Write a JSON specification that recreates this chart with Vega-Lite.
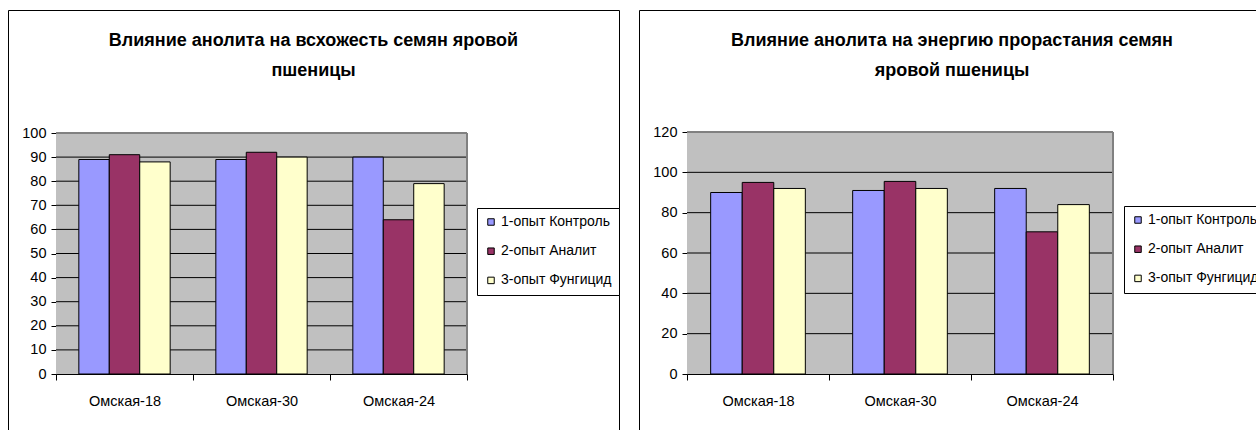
{
  "$schema": "https://vega.github.io/schema/vega-lite/v6.json",
  "padding": {"left": 7, "top": 9, "right": 0, "bottom": 0},
  "background": "white",
  "spacing": 20,
  "bounds": "flush",
  "datasets": {
    "vs": [
      {"sort": "Омская-18", "series": "1-опыт Контроль", "value": 89},
      {"sort": "Омская-18", "series": "2-опыт Аналит", "value": 91},
      {"sort": "Омская-18", "series": "3-опыт Фунгицид", "value": 88},
      {"sort": "Омская-30", "series": "1-опыт Контроль", "value": 89},
      {"sort": "Омская-30", "series": "2-опыт Аналит", "value": 92},
      {"sort": "Омская-30", "series": "3-опыт Фунгицид", "value": 90},
      {"sort": "Омская-24", "series": "1-опыт Контроль", "value": 90},
      {"sort": "Омская-24", "series": "2-опыт Аналит", "value": 64},
      {"sort": "Омская-24", "series": "3-опыт Фунгицид", "value": 79}
    ],
    "en": [
      {"sort": "Омская-18", "series": "1-опыт Контроль", "value": 90},
      {"sort": "Омская-18", "series": "2-опыт Аналит", "value": 95},
      {"sort": "Омская-18", "series": "3-опыт Фунгицид", "value": 92},
      {"sort": "Омская-30", "series": "1-опыт Контроль", "value": 91},
      {"sort": "Омская-30", "series": "2-опыт Аналит", "value": 95.5},
      {"sort": "Омская-30", "series": "3-опыт Фунгицид", "value": 92},
      {"sort": "Омская-24", "series": "1-опыт Контроль", "value": 92},
      {"sort": "Омская-24", "series": "2-опыт Аналит", "value": 70.5},
      {"sort": "Омская-24", "series": "3-опыт Фунгицид", "value": 84}
    ],
    "grid1": [{"g": 10}, {"g": 20}, {"g": 30}, {"g": 40}, {"g": 50}, {"g": 60}, {"g": 70}, {"g": 80}, {"g": 90}],
    "grid2": [{"g": 20}, {"g": 40}, {"g": 60}, {"g": 80}, {"g": 100}]
  },
  "config": {
    "view": {"stroke": "black", "strokeWidth": 1, "fill": "white"},
    "axis": {
      "title": null,
      "grid": false,
      "labelFont": "Liberation Sans",
      "labelFontSize": 14.5,
      "labelColor": "black",
      "domainColor": "black",
      "domainWidth": 1,
      "tickColor": "black",
      "tickWidth": 1
    },
    "legend": {
      "orient": "none",
      "title": null,
      "strokeColor": "black",
      "fillColor": "white",
      "padding": 7,
      "symbolType": "square",
      "symbolSize": 42,
      "symbolStrokeColor": "black",
      "symbolStrokeWidth": 1,
      "symbolOpacity": 1,
      "labelFont": "Liberation Sans",
      "labelFontSize": 14,
      "labelColor": "black",
      "labelOffset": 3,
      "rowPadding": 15.2
    },
    "title": {
      "font": "Liberation Sans",
      "fontSize": 18,
      "fontWeight": "bold",
      "color": "black",
      "lineHeight": 30,
      "anchor": "middle",
      "frame": "group",
      "offset": -70
    }
  },
  "resolve": {
    "scale": {"x": "independent", "y": "independent", "color": "independent", "xOffset": "independent"},
    "legend": {"color": "independent"}
  },
  "hconcat": [
    {
      "width": 611,
      "height": 424,
      "title": {"text": ["Влияние анолита на всхожесть семян яровой", "пшеницы"]},
      "encoding": {
        "x": {
          "field": "sort", "type": "nominal",
          "sort": ["Омская-18", "Омская-30", "Омская-24"],
          "scale": {"range": [48, 459], "paddingInner": 0, "paddingOuter": 0},
          "axis": {"offset": -60, "tickBand": "extent", "tickSize": 6, "labelPadding": 14, "labelAngle": 0}
        }
      },
      "layer": [
        {
          "data": {"name": "vs"},
          "mark": {"type": "rect", "color": "#C0C0C0"},
          "encoding": {
            "y": {
              "datum": 0, "type": "quantitative",
              "scale": {"domain": [0, 100], "range": [364, 123], "nice": false, "zero": true},
              "axis": {"offset": -48, "values": [0, 10, 20, 30, 40, 50, 60, 70, 80, 90, 100], "tickSize": 5, "labelPadding": 5}
            },
            "y2": {"datum": 100}
          }
        },
        {
          "data": {"name": "grid1"},
          "mark": {"type": "rule", "color": "black", "strokeWidth": 1},
          "encoding": {
            "x": {"datum": "Омская-18", "bandPosition": 0},
            "x2": {"datum": "Омская-24", "bandPosition": 1},
            "y": {"field": "g", "type": "quantitative"}
          }
        },
        {
          "data": {"name": "vs"},
          "mark": {"type": "rule", "color": "#808080"},
          "encoding": {
            "x": {"datum": "Омская-18", "bandPosition": 0},
            "x2": {"datum": "Омская-24", "bandPosition": 1},
            "y": {"datum": 100, "type": "quantitative"}
          }
        },
        {
          "data": {"name": "vs"},
          "mark": {"type": "rule", "color": "#808080"},
          "encoding": {
            "x": {"datum": "Омская-24", "bandPosition": 1},
            "y": {"datum": 0, "type": "quantitative"},
            "y2": {"datum": 100}
          }
        },
        {
          "data": {"name": "vs"},
          "mark": {"type": "bar", "stroke": "black", "strokeWidth": 1},
          "encoding": {
            "xOffset": {"field": "series", "type": "nominal", "scale": {"paddingInner": 0, "paddingOuter": 0.75}},
            "y": {"field": "value", "type": "quantitative"},
            "color": {
              "field": "series", "type": "nominal",
              "scale": {"domain": ["1-опыт Контроль", "2-опыт Аналит", "3-опыт Фунгицид"], "range": ["#9999FF", "#993366", "#FFFFCC"]},
              "legend": {"legendX": 469, "legendY": 198}
            }
          }
        }
      ]
    },
    {
      "width": 620,
      "height": 424,
      "title": {"text": ["Влияние анолита на энергию прорастания семян", "яровой пшеницы"], "dx": 3},
      "encoding": {
        "x": {
          "field": "sort", "type": "nominal",
          "sort": ["Омская-18", "Омская-30", "Омская-24"],
          "scale": {"range": [48, 474], "paddingInner": 0, "paddingOuter": 0},
          "axis": {"offset": -60, "tickBand": "extent", "tickSize": 6, "labelPadding": 14, "labelAngle": 0}
        }
      },
      "layer": [
        {
          "data": {"name": "en"},
          "mark": {"type": "rect", "color": "#C0C0C0"},
          "encoding": {
            "y": {
              "datum": 0, "type": "quantitative",
              "scale": {"domain": [0, 120], "range": [364, 122], "nice": false, "zero": true},
              "axis": {"offset": -48, "values": [0, 20, 40, 60, 80, 100, 120], "tickSize": 5, "labelPadding": 5}
            },
            "y2": {"datum": 120}
          }
        },
        {
          "data": {"name": "grid2"},
          "mark": {"type": "rule", "color": "black", "strokeWidth": 1},
          "encoding": {
            "x": {"datum": "Омская-18", "bandPosition": 0},
            "x2": {"datum": "Омская-24", "bandPosition": 1},
            "y": {"field": "g", "type": "quantitative"}
          }
        },
        {
          "data": {"name": "en"},
          "mark": {"type": "rule", "color": "#808080"},
          "encoding": {
            "x": {"datum": "Омская-18", "bandPosition": 0},
            "x2": {"datum": "Омская-24", "bandPosition": 1},
            "y": {"datum": 120, "type": "quantitative"}
          }
        },
        {
          "data": {"name": "en"},
          "mark": {"type": "rule", "color": "#808080"},
          "encoding": {
            "x": {"datum": "Омская-24", "bandPosition": 1},
            "y": {"datum": 0, "type": "quantitative"},
            "y2": {"datum": 120}
          }
        },
        {
          "data": {"name": "en"},
          "mark": {"type": "bar", "stroke": "black", "strokeWidth": 1},
          "encoding": {
            "xOffset": {"field": "series", "type": "nominal", "scale": {"paddingInner": 0, "paddingOuter": 0.75}},
            "y": {"field": "value", "type": "quantitative"},
            "color": {
              "field": "series", "type": "nominal",
              "scale": {"domain": ["1-опыт Контроль", "2-опыт Аналит", "3-опыт Фунгицид"], "range": ["#9999FF", "#993366", "#FFFFCC"]},
              "legend": {"legendX": 485, "legendY": 196}
            }
          }
        }
      ]
    }
  ]
}
